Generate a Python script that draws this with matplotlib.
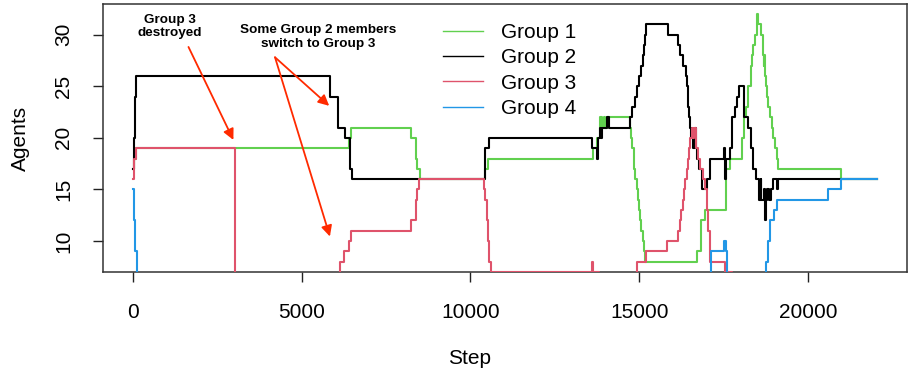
import numpy as np
import matplotlib.pyplot as plt

plt.rcParams['font.family'] = ['Liberation Sans', 'DejaVu Sans']

# breakpoints of each step series (step, agents)
g1_x = [0, 50, 100, 6390, 6470, 8245, 8393, 8432, 8511, 10420, 10530, 13623, 13760, 13830,
        13900, 13950, 14000, 14050, 14728, 14760, 14800, 14840, 14880, 14920, 14950, 14990,
        15030, 15060, 15100, 15130, 15160, 16702, 16820, 16948, 17560, 17680, 18040, 18100,
        18156, 18220, 18304, 18350, 18383, 18432, 18480, 18500, 18530, 18600, 18659, 18690,
        18710, 18730, 18760, 18800, 18823, 18880, 18922, 18970, 19020, 19070, 19118, 20974, 22050]
g1_y = [17, 18, 19, 20, 21, 20, 18, 17, 16, 17, 18, 19, 20, 22,
        21, 22, 21, 22, 21, 20, 19, 17, 16, 15, 14, 13,
        12, 11, 10, 9, 8, 9, 12, 13, 17, 18, 20, 22,
        23, 25, 27, 28, 29, 30, 31, 32, 31, 30, 28, 27,
        28, 26, 25, 24, 23, 22, 21, 20, 19, 18, 17, 16, 16]

g2_x = [0, 30, 60, 100, 5847, 6093, 6290, 6420, 6487, 10440, 10553, 13593, 13740, 13780,
        13830, 13870, 13900, 14050, 14100, 14728, 14796, 14876, 14945, 14990, 15050, 15100,
        15130, 15160, 15201, 15843, 16158, 16220, 16300, 16376, 16410, 16440, 16470, 16500,
        16530, 16600, 16650, 16680, 16720, 16780, 16850, 16998, 17096, 17500, 17530, 17570,
        17688, 17738, 17836, 17905, 17964, 18102, 18230, 18304, 18383, 18451, 18556, 18600,
        18620, 18700, 18730, 18770, 18800, 18830, 18900, 18952, 19080, 19120, 22050]
g2_y = [17, 20, 24, 26, 24, 21, 20, 17, 16, 19, 20, 19, 18, 20,
        21, 20, 21, 22, 21, 22, 23, 24, 25, 26, 27, 28,
        29, 30, 31, 30, 29, 28, 27, 26, 25, 23, 22, 21,
        20, 19, 21, 19, 18, 17, 15, 16, 18, 19, 16, 18,
        19, 22, 23, 24, 25, 22, 21, 19, 17, 16, 14, 16,
        14, 15, 12, 14, 15, 14, 15, 16, 15, 16, 16]

g3_x = [0, 50, 100, 3034, 6123, 6271, 6400, 6459, 8245, 8393, 8432, 8491, 10400, 10440,
        10480, 10520, 10560, 10600, 13600, 13640, 13800, 14926, 15201, 15832, 16158, 16200,
        16250, 16290, 16330, 16370, 16410, 16440, 16470, 16510, 16550, 16600, 16630, 16690,
        16750, 16800, 16900, 16950, 17000, 17050, 17100, 17540, 17740, 22050]
g3_y = [16, 18, 19, 0, 8, 9, 10, 11, 12, 14, 15, 16, 15, 14,
        12, 10, 8, 7, 8, 7, 0, 8, 9, 10, 11, 12,
        13, 14, 15, 16, 17, 18, 19, 20, 21, 20, 21, 19,
        18, 17, 16, 15, 13, 11, 8, 7, 0, 0]

g4_x = [0, 40, 80, 120, 17116, 17500, 17570, 17610, 18753, 18823, 18872, 18990, 19070,
        20580, 20974, 22050]
g4_y = [15, 12, 9, 0, 9, 10, 9, 0, 8, 10, 12, 13, 14, 15, 16, 16]

labels = ["Group 1", "Group 2", "Group 3", "Group 4"]
colors = ["#61D04F", "#000000", "#DF536B", "#2297E6"]

fig = plt.figure(figsize=(9.1, 3.77), dpi=100)
ax = fig.add_axes([103/910, (377-271.7)/377, 804/910, 267.7/377])

series = [(g1_x, g1_y), (g2_x, g2_y), (g3_x, g3_y), (g4_x, g4_y)]
for (x, y), lab, c in zip(series, labels, colors):
    ax.plot(x, y, drawstyle='steps-post', color=c, lw=1.5, label=lab, zorder=3)

ax.set_xlim(-882, 22932)
ax.set_ylim(7.04, 32.96)
ax.set_xticks([0, 5000, 10000, 15000, 20000])
ax.set_yticks([10, 15, 20, 25, 30])
ax.tick_params(direction='out', length=7.5, width=1, labelsize=15, pad=15, color='#222222')
ax.tick_params(axis='y', labelrotation=90, pad=14)
for lab in ax.get_yticklabels():
    lab.set_va('center')
for sp in ax.spines.values():
    sp.set_linewidth(1.1)
    sp.set_color('#333333')

fig.text(20/910, 1 - 138/377, "Agents", rotation=90, ha='center', va='center', fontsize=15)
fig.text(470/910, 1 - 358/377, "Step", ha='center', va='center', fontsize=15)

leg = ax.legend(loc='upper left', bbox_to_anchor=(0.401, 0.995), frameon=False, fontsize=15,
                handlelength=1.9, handletextpad=0.9, labelspacing=0.3, borderpad=0.35)
for h in leg.get_lines():
    h.set_linewidth(1.0)

# annotations
red = "#FF2A00"
ax.text(1109, 30.8, "Group 3\ndestroyed", ha='center', va='center', fontsize=9.7,
        fontweight='bold', linespacing=1.15)
ax.text(5484, 29.76, "Some Group 2 members\nswitch to Group 3", ha='center', va='center',
        fontsize=9.7, fontweight='bold', linespacing=1.15)
arw = dict(arrowstyle='-|>', color=red, lw=1.3, mutation_scale=16, shrinkA=0, shrinkB=0)
ax.annotate("", xy=(2980, 19.8), xytext=(1650, 28.8), arrowprops=arw)
ax.annotate("", xy=(5818, 23.1), xytext=(4213, 27.8), arrowprops=arw)
ax.annotate("", xy=(5839, 10.45), xytext=(4213, 27.8), arrowprops=arw)

fig.savefig("out.png", dpi=100)
